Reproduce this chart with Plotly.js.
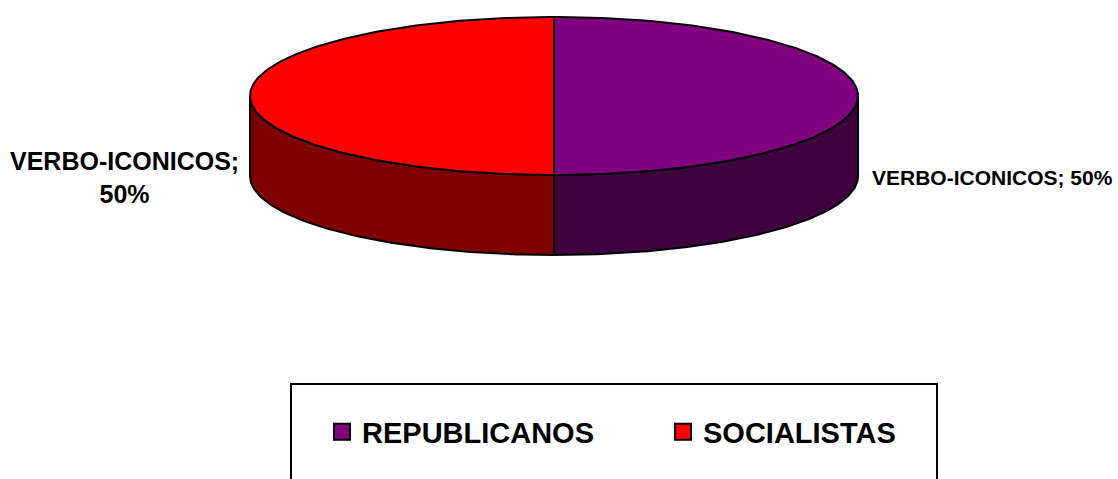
<!DOCTYPE html>
<html>
<head>
<meta charset="utf-8">
<script src="https://cdn.plot.ly/plotly-3.0.1.min.js"></script>
<style>html,body{margin:0;padding:0;background:#fff;}#chart{width:1118px;height:479px;}</style>
</head>
<body>
<div id="chart"></div>
<script>
// ---- data ----
var categories = ['REPUBLICANOS', 'SOCIALISTAS'];
var values = [50, 50];
var sliceLabel = 'VERBO-ICONICOS';
var topColors = ['#800080', '#FF0000'];
var sideColors = ['#3F003F', '#7F0000'];

// ---- geometry (layout constants, pixel-like axes) ----
var W = 1118, H = 479;
var cx = 554, cy = 96, rx = 304, ry = 79, depth = 80;
var FONT = 'Liberation Sans, Arial, sans-serif';

var total = values.reduce(function (a, b) { return a + b; }, 0);
function px(t) { return cx + rx * Math.cos(t); }
function py(t) { return cy - ry * Math.sin(t); }

var sideTraces = [], topTraces = [], annotations = [];
var start = Math.PI / 2; // 12 o'clock, clockwise
values.forEach(function (v, i) {
  var span = 2 * Math.PI * v / total;
  var end = start - span;
  var n = Math.max(8, Math.ceil(span / (Math.PI / 180)));
  var tx = [cx], ty = [cy];
  var fa = [];
  for (var k = 0; k <= n; k++) {
    var t = start - span * k / n;
    tx.push(px(t)); ty.push(py(t));
    if (Math.sin(t) <= 1e-9) fa.push(t);
  }
  tx.push(cx); ty.push(cy);
  topTraces.push({
    type: 'scatter', mode: 'lines', x: tx, y: ty, fill: 'toself',
    fillcolor: topColors[i], line: { color: '#000', width: 2 },
    hoverinfo: 'skip', showlegend: false
  });
  if (fa.length > 1) {
    var sx = [], sy = [];
    fa.forEach(function (t) { sx.push(px(t)); sy.push(py(t)); });
    for (var j = fa.length - 1; j >= 0; j--) { sx.push(px(fa[j])); sy.push(py(fa[j]) + depth); }
    sx.push(sx[0]); sy.push(sy[0]);
    sideTraces.push({
      type: 'scatter', mode: 'lines', x: sx, y: sy, fill: 'toself',
      fillcolor: sideColors[i], line: { color: '#000', width: 2 },
      hoverinfo: 'skip', showlegend: false
    });
  }
  var mid = (start + end) / 2;
  var pct = Math.round(100 * v / total) + '%';
  var left = Math.cos(mid) < 0;
  annotations.push({
    xref: 'x', yref: 'y',
    x: left ? px(mid) - 12 - 114 : px(mid) + 12,
    y: py(mid) + depth + 1,
    xanchor: left ? 'center' : 'left', yanchor: 'middle',
    text: '<b>' + (left ? sliceLabel + ';<br>' + pct : sliceLabel + '; ' + pct) + '</b>',
    showarrow: false, align: 'center',
    font: { family: FONT, size: left ? 25 : 21, color: '#000' }
  });
  start = end;
});

var legendTraces = categories.map(function (c, i) {
  return {
    type: 'scatter', mode: 'markers', x: [null], y: [null], name: '<b>' + c + '</b>',
    marker: { symbol: 'square', size: 18, color: topColors[i], line: { color: '#000', width: 2 } },
    hoverinfo: 'skip'
  };
});

var layout = {
  width: W, height: H,
  margin: { l: 0, r: 0, t: 0, b: 0 },
  paper_bgcolor: '#fff', plot_bgcolor: '#fff',
  xaxis: { range: [0, W], visible: false, fixedrange: true },
  yaxis: { range: [H, 0], visible: false, fixedrange: true },
  showlegend: true,
  legend: {
    orientation: 'h', x: 322 / W, xanchor: 'left', y: 1 - 432 / H, yanchor: 'middle',
    font: { family: FONT, size: 29, color: '#000' },
    entrywidth: 296, bgcolor: 'rgba(0,0,0,0)', borderwidth: 0
  },
  shapes: [{
    type: 'rect', xref: 'x', yref: 'y', x0: 291, x1: 937, y0: 384, y1: 520,
    line: { color: '#000', width: 2 }, fillcolor: 'rgba(0,0,0,0)', layer: 'below'
  }],
  annotations: annotations
};

Plotly.newPlot('chart', sideTraces.concat(topTraces).concat(legendTraces), layout, { staticPlot: true });
</script>
</body>
</html>
